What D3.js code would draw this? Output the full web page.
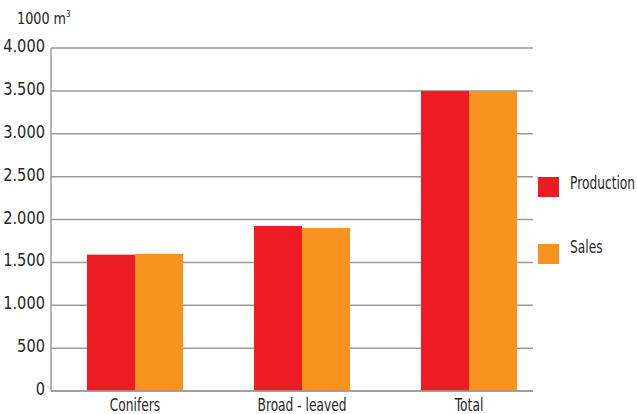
<!DOCTYPE html>
<html><head><meta charset="utf-8">
<script src="https://cdn.jsdelivr.net/npm/d3@7"></script>
<style>
body{margin:0;background:#fff;}
text{font-family:"DejaVu Sans",sans-serif;fill:#262626;}
</style></head><body>
<svg id="c" width="637" height="414"></svg>
<script>
const categories = ["Conifers", "Broad - leaved", "Total"];
const seriesNames = ["Production", "Sales"];
const production = [1590, 1925, 3500];
const sales = [1600, 1900, 3500];
const yTicks = [0, 500, 1000, 1500, 2000, 2500, 3000, 3500, 4000];
const yTickLabels = ["0", "500", "1.000", "1.500", "2.000", "2.500", "3.000", "3.500", "4.000"];
const colors = ["#ed1c24", "#f7931e"];
const unitLabel = "1000 m";

const svg = d3.select("#c");
const y = d3.scaleLinear().domain([0, 4000]).range([391, 48]);
const x = d3.scaleBand().domain(categories).range([51.5, 552.5]).paddingInner(0.425).paddingOuter(0.2125);
const xs = d3.scaleBand().domain(seriesNames).range([0, x.bandwidth()]);

function ctext(parent, px, py, txt, size, sx, anchor) {
  return parent.append("text")
    .attr("transform", `translate(${px},${py}) scale(${sx},1)`)
    .attr("text-anchor", anchor || "start")
    .style("font-size", size + "px")
    .text(txt);
}

svg.append("g").selectAll("line").data(yTicks).join("line")
  .attr("x1", 51).attr("x2", 533)
  .attr("y1", d => y(d)).attr("y2", d => y(d))
  .attr("stroke", "#9a9a9a").attr("stroke-width", 1.5);

svg.append("line").attr("x1", 51).attr("x2", 51).attr("y1", y(4000)).attr("y2", y(0))
  .attr("stroke", "#9a9a9a").attr("stroke-width", 1.5);

const yl = svg.append("g");
yTicks.forEach((d, i) => ctext(yl, 45, y(d) + 4, yTickLabels[i], 17, 0.86, "end"));

const u = ctext(svg, 17, 24, "", 16, 0.8, "start");
u.append("tspan").text(unitLabel);
u.append("tspan").attr("dy", -7).style("font-size", "9px").text("3");

const data = categories.map((c, i) => ({c, vals: [production[i], sales[i]]}));
const g = svg.append("g").selectAll("g").data(data).join("g")
  .attr("transform", d => `translate(${x(d.c)},0)`);
g.selectAll("rect").data(d => d.vals.map((v, j) => ({s: seriesNames[j], v, j}))).join("rect")
  .attr("x", d => xs(d.s)).attr("width", xs.bandwidth())
  .attr("y", d => y(d.v)).attr("height", d => y(0) - y(d.v))
  .attr("fill", d => colors[d.j]);

svg.append("line").attr("x1", 51).attr("x2", 533).attr("y1", y(0)).attr("y2", y(0))
  .attr("stroke", "#9a9a9a").attr("stroke-width", 1.5);

const xl = svg.append("g");
categories.forEach(c => ctext(xl, x(c) + x.bandwidth() / 2, 411, c, 17, 0.72, "middle"));

const legY = [177, 244];
const legTextDy = [12, 9];
const leg = svg.append("g");
seriesNames.forEach((s, i) => {
  leg.append("rect").attr("x", 538).attr("y", legY[i]).attr("width", 21).attr("height", 20).attr("fill", colors[i]);
  ctext(leg, 570, legY[i] + legTextDy[i], s, 17, 0.72, "start");
});
</script>
</body></html>
